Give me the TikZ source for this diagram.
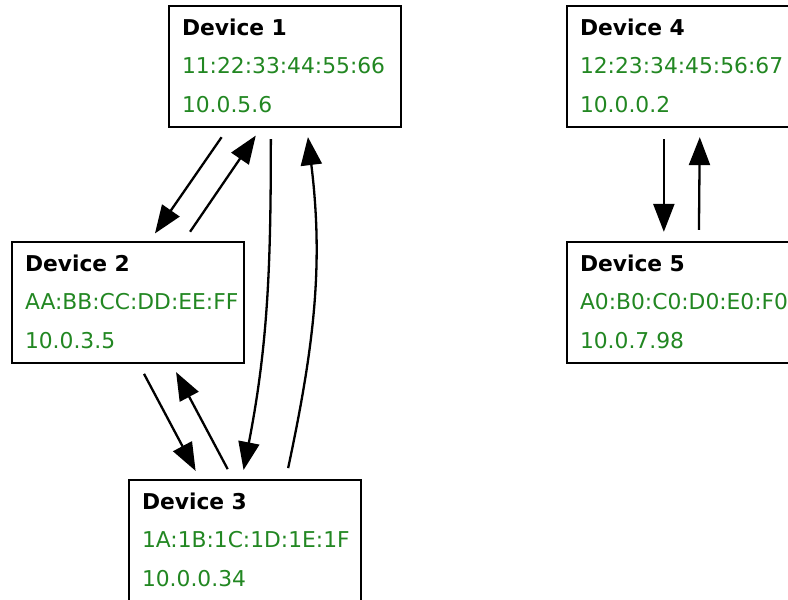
\documentclass[tikz,border=0pt]{standalone}
\usepackage{fontspec}
\setmainfont{DejaVu Sans}
\usepackage{tikz}
\usetikzlibrary{arrows.meta}
\definecolor{devgreen}{RGB}{34,135,34}

\begin{document}
\begin{tikzpicture}[x=1pt,y=1pt,>={Triangle[length=28pt,width=21pt]},
  dev/.style={draw,line width=2.3pt,minimum width=232pt,minimum height=121pt,
    text width=206pt,inner xsep=13pt,inner ysep=0pt,align=left,
    text height=18pt,text depth=81pt,font=\fontsize{21.8}{38.5}\selectfont},
  link/.style={->,line width=2.3pt,shorten <=11pt,shorten >=9pt}]
\useasboundingbox (0,0) rectangle (788,-600);

\node[dev](D1) at (285,-66.5){\textbf{Device 1}\\ \textcolor{devgreen}{11:22:33:44:55:66}\\ \textcolor{devgreen}{10.0.5.6}};
\node[dev](D2) at (128,-302.5){\textbf{Device 2}\\ \textcolor{devgreen}{AA:BB:CC:DD:EE:FF}\\ \textcolor{devgreen}{10.0.3.5}};
\node[dev](D3) at (245,-540.5){\textbf{Device 3}\\ \textcolor{devgreen}{1A:1B:1C:1D:1E:1F}\\ \textcolor{devgreen}{10.0.0.34}};
\node[dev](D4) at (683,-66.5){\textbf{Device 4}\\ \textcolor{devgreen}{12:23:34:45:56:67}\\ \textcolor{devgreen}{10.0.0.2}};
\node[dev](D5) at (683,-302.5){\textbf{Device 5}\\ \textcolor{devgreen}{A0:B0:C0:D0:E0:F0}\\ \textcolor{devgreen}{10.0.7.98}};

% left group
\draw[link]([xshift=60pt]D1.south west)--([xshift=139pt]D2.north west);
\draw[link]([xshift=173pt]D2.north west)--([xshift=93pt]D1.south west);
\draw[link]([xshift=103pt]D1.south west) to[out=-90,in=79] ([xshift=114pt]D3.north west);
\draw[link]([xshift=158pt]D3.north west) to[out=78,in=-83] ([xshift=139pt]D1.south west);
\draw[link]([xshift=128pt]D2.south west)--([xshift=72pt]D3.north west);
\draw[link]([xshift=105pt]D3.north west)--([xshift=161pt]D2.south west);

% right group
\draw[link]([xshift=98pt]D4.south west)--([xshift=98pt]D5.north west);
\draw[link]([xshift=133pt]D5.north west)--([xshift=134pt]D4.south west);
\end{tikzpicture}
\end{document}
